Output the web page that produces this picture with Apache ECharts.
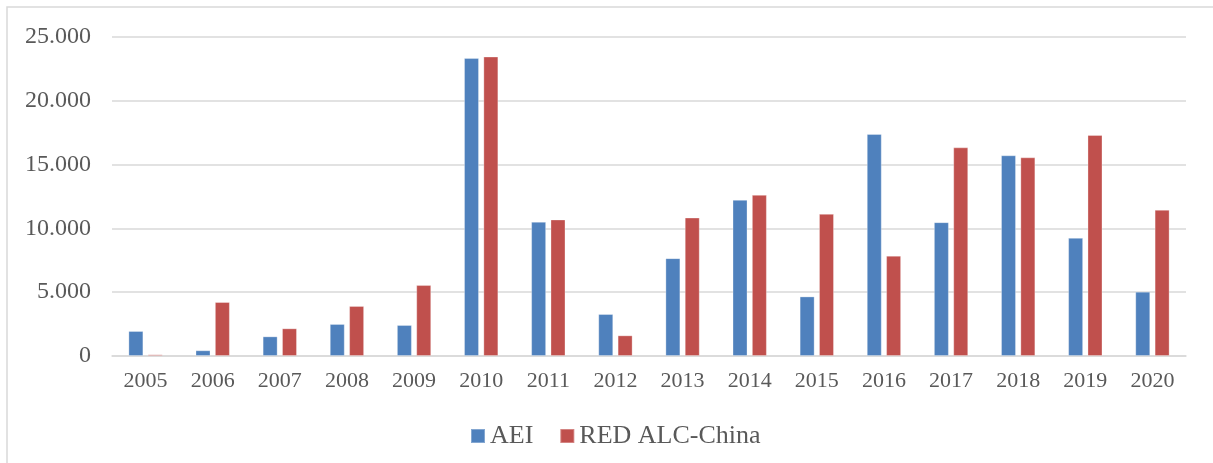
<!DOCTYPE html>
<html>
<head>
<meta charset="utf-8">
<script src="https://cdn.jsdelivr.net/npm/echarts@6/dist/echarts.min.js"></script>
<style>
html,body{margin:0;padding:0;background:#fff;}
#chart{width:1213px;height:463px;}
</style>
</head>
<body>
<div id="chart"></div>
<script>
const categories = ['2005','2006','2007','2008','2009','2010','2011','2012','2013','2014','2015','2016','2017','2018','2019','2020'];
const seriesNames = ['AEI', 'RED ALC-China'];
const aei = [1960, 450, 1540, 2510, 2430, 23350, 10520, 3290, 7670, 12240, 4670, 17400, 10490, 15730, 9260, 5040];
const redAlc = [130, 4230, 2170, 3920, 5560, 23470, 10700, 1620, 10850, 12630, 11140, 7860, 16350, 15570, 17320, 11460];
const yTicks = [0, 5000, 10000, 15000, 20000, 25000];

const chart = echarts.init(document.getElementById('chart'), null, {renderer: 'canvas'});
const font = 'Liberation Serif, "Times New Roman", serif';
function fmt(v) {
  if (v === 0) return '0';
  return String(v).replace(/\B(?=(\d{3})+(?!\d))/g, '.');
}
chart.setOption({
  animation: false,
  backgroundColor: '#ffffff',
  graphic: [{
    type: 'polyline',
    shape: {points: [[7, 470], [7, 7], [1220, 7]]},
    style: {stroke: '#d9d9d9', lineWidth: 1.5, fill: null},
    silent: true
  }],
  grid: {left: 112, right: 27, top: 37, bottom: 107, containLabel: false},
  legend: {
    data: seriesNames,
    left: 465,
    top: 418,
    itemWidth: 14,
    itemHeight: 14,
    itemGap: 26,
    icon: 'rect',
    textStyle: {fontFamily: font, fontSize: 26, color: '#595959', padding: [0, 0, 0, 0]}
  },
  xAxis: {
    type: 'category',
    data: categories,
    axisLine: {show: true, lineStyle: {color: '#d9d9d9', width: 1.5}},
    axisTick: {show: false},
    axisLabel: {fontFamily: font, fontSize: 22, color: '#595959', margin: 14}
  },
  yAxis: {
    type: 'value',
    min: yTicks[0],
    max: yTicks[yTicks.length - 1],
    interval: 5000,
    axisLine: {show: false},
    axisTick: {show: false},
    splitLine: {lineStyle: {color: '#d9d9d9', width: 1.5}},
    axisLabel: {fontFamily: font, fontSize: 24, color: '#595959', margin: 21, formatter: fmt}
  },
  series: [
    {
      name: seriesNames[0], type: 'bar', data: aei, barWidth: 15, barGap: '29%',
      itemStyle: {color: '#4F81BD', borderColor: 'rgba(255,255,255,0.3)', borderWidth: 1}
    },
    {
      name: seriesNames[1], type: 'bar', data: redAlc, barWidth: 15,
      itemStyle: {color: '#C0504D', borderColor: 'rgba(255,255,255,0.3)', borderWidth: 1}
    }
  ]
});
</script>
</body>
</html>
